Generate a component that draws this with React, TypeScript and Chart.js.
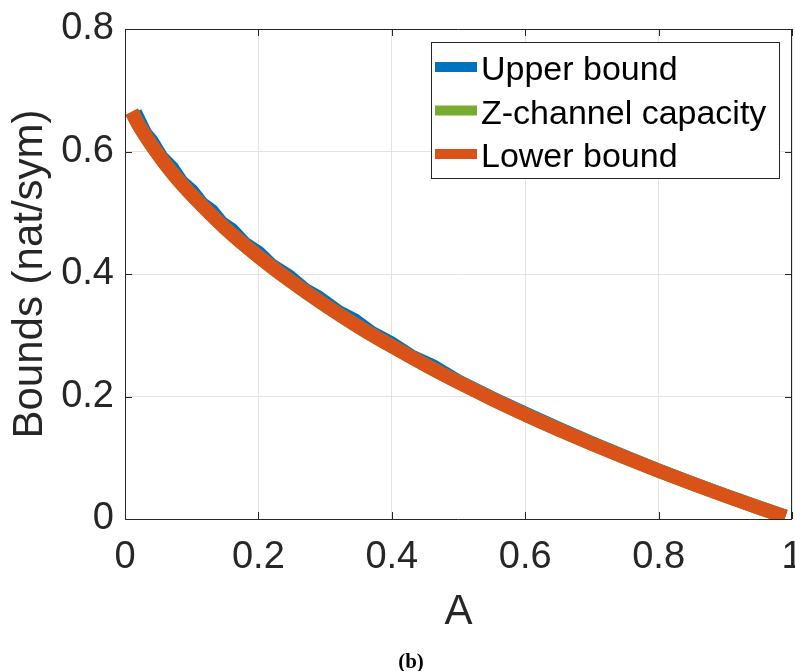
import React, { useEffect, useRef } from "react";
import { Chart, registerables } from "chart.js";

Chart.register(...registerables);

// ---- data ----
const seriesLabels = ["Upper bound", "Z-channel capacity", "Lower bound"];
const seriesColors = ["#0072BD", "#77AC30", "#D95319"];

const lowerA = [0.01, 0.02, 0.04, 0.06, 0.08, 0.1, 0.15, 0.2, 0.25, 0.3, 0.35, 0.4, 0.45, 0.5, 0.55, 0.6, 0.65, 0.7, 0.75, 0.8, 0.85, 0.9, 0.95, 0.99];
const lowerVals = [0.665, 0.644, 0.610, 0.580, 0.553, 0.529, 0.475, 0.4285, 0.387, 0.349, 0.314, 0.282, 0.2517, 0.2231, 0.1962, 0.1705, 0.1461, 0.1227, 0.1003, 0.0787, 0.058, 0.038, 0.0187, 0.0037];
const zVals = [0.665, 0.644, 0.610, 0.580, 0.553, 0.529, 0.475, 0.4285, 0.387, 0.349, 0.314, 0.282, 0.2517, 0.2231, 0.1962, 0.1705, 0.1461, 0.1227, 0.1003, 0.0787, 0.058, 0.038, 0.0187, 0.0037];

const upperA = [0.015, 0.03, 0.04, 0.055, 0.07, 0.085, 0.1, 0.115, 0.13, 0.145, 0.16, 0.18, 0.2, 0.22, 0.245, 0.27, 0.29, 0.32, 0.345, 0.37, 0.4, 0.43, 0.46, 0.5, 0.55, 0.6, 0.65, 0.7, 0.75, 0.8, 0.85, 0.9, 0.95, 0.99];
const upperVals = [0.664, 0.630, 0.617, 0.590, 0.574, 0.550, 0.536, 0.515, 0.503, 0.483, 0.472, 0.449, 0.435, 0.414, 0.397, 0.374, 0.362, 0.338, 0.324, 0.304, 0.2865, 0.265, 0.2505, 0.2245, 0.1975, 0.172, 0.1475, 0.1237, 0.1011, 0.0793, 0.0585, 0.0384, 0.0189, 0.0038];

const xTickValues = [0, 0.2, 0.4, 0.6, 0.8, 1];
const xTickLabels = ["0", "0.2", "0.4", "0.6", "0.8", "1"];
const yTickValues = [0, 0.2, 0.4, 0.6, 0.8];
const yTickLabels = ["0", "0.2", "0.4", "0.6", "0.8"];

const xTitle = "A";
const yTitle = "Bounds (nat/sym)";
const caption = "(b)";

const FONT = "'Liberation Sans', Arial, Helvetica, sans-serif";
const AXIS_COLOR = "#262626";
const AREA = { left: 125, top: 29, right: 792, bottom: 519 };

const decorPlugin = {
  id: "matlabDecor",
  afterLayout(chart: any) {
    const { left, top, right, bottom } = AREA;
    chart.chartArea = { left, top, right, bottom, width: right - left, height: bottom - top };
    const xs = chart.scales.x;
    const ys = chart.scales.y;
    Object.assign(xs, { left, right, top: bottom, bottom: chart.height, width: right - left, height: chart.height - bottom });
    Object.assign(ys, { left: 0, right: left, top, bottom, width: left, height: bottom - top });
    [xs, ys].forEach((s: any) => {
      s.configure();
      s._labelItems = null;
      s._gridLineItems = null;
    });
  },
  afterDatasetsDraw(chart: any) {
    const ctx = chart.ctx;
    const { left, right, top, bottom } = chart.chartArea;
    const xs = chart.scales.x;
    const ys = chart.scales.y;
    ctx.save();
    ctx.strokeStyle = AXIS_COLOR;
    ctx.lineWidth = 1;
    ctx.beginPath();
    ctx.rect(Math.round(left) + 0.5, Math.round(top) + 0.5, Math.round(right - left) - 1, Math.round(bottom - top));
    ctx.stroke();
    const tl = 7;
    ctx.beginPath();
    xTickValues.forEach((v) => {
      const px = Math.round(xs.getPixelForValue(v)) + 0.5;
      ctx.moveTo(px, bottom);
      ctx.lineTo(px, bottom - tl);
      ctx.moveTo(px, top);
      ctx.lineTo(px, top + tl);
    });
    yTickValues.forEach((v) => {
      const py = Math.round(ys.getPixelForValue(v)) + 0.5;
      ctx.moveTo(left, py);
      ctx.lineTo(left + tl, py);
      ctx.moveTo(right, py);
      ctx.lineTo(right - tl, py);
    });
    ctx.stroke();

    // legend
    const boxRight = right - 13;
    const boxLeft = boxRight - 348;
    const boxTop = top + 13;
    const boxH = 136;
    ctx.fillStyle = "#ffffff";
    ctx.fillRect(boxLeft, boxTop, 348, boxH);
    ctx.strokeStyle = AXIS_COLOR;
    ctx.lineWidth = 1;
    ctx.strokeRect(Math.round(boxLeft) + 0.5, Math.round(boxTop) + 0.5, 348, boxH);
    ctx.font = `34px ${FONT}`;
    ctx.textAlign = "left";
    ctx.textBaseline = "alphabetic";
    seriesLabels.forEach((lab, i) => {
      const base = boxTop + 38 + i * 43.5;
      const cy = base - 13;
      ctx.fillStyle = seriesColors[i];
      ctx.fillRect(boxLeft + 4, cy - 5, 42, 10);
      ctx.fillStyle = "#000000";
      ctx.fillText(lab, boxLeft + 50, base);
    });
    ctx.restore();
  },
  afterDraw(chart: any) {
    const ctx = chart.ctx;
    const { left, right, top, bottom } = chart.chartArea;
    ctx.save();
    ctx.fillStyle = AXIS_COLOR;
    ctx.font = `42px ${FONT}`;
    ctx.textAlign = "center";
    ctx.textBaseline = "middle";
    ctx.fillText(xTitle, (left + right) / 2, 612);
    ctx.translate(30, (top + bottom) / 2);
    ctx.rotate(-Math.PI / 2);
    ctx.fillText(yTitle, 0, 0);
    ctx.restore();
  },
};

export default function App() {
  const ref = useRef<HTMLCanvasElement | null>(null);

  useEffect(() => {
    if (!ref.current) return;
    document.body.style.margin = "0";
    const mk = (xa: number[], ya: number[]) => xa.map((x, i) => ({ x, y: ya[i] }));
    const chart = new Chart(ref.current, {
      type: "line",
      data: {
        datasets: [
          {
            label: seriesLabels[0],
            data: mk(upperA, upperVals),
            borderColor: seriesColors[0],
            backgroundColor: seriesColors[0],
            borderWidth: 14,
            pointRadius: 0,
            tension: 0,
            borderCapStyle: "butt",
            borderJoinStyle: "round",
            order: 3,
          },
          {
            label: seriesLabels[1],
            data: mk(lowerA, zVals),
            borderColor: seriesColors[1],
            backgroundColor: seriesColors[1],
            borderWidth: 14,
            pointRadius: 0,
            cubicInterpolationMode: "monotone",
            borderCapStyle: "butt",
            order: 2,
          },
          {
            label: seriesLabels[2],
            data: mk(lowerA, lowerVals),
            borderColor: seriesColors[2],
            backgroundColor: seriesColors[2],
            borderWidth: 14,
            pointRadius: 0,
            cubicInterpolationMode: "monotone",
            borderCapStyle: "butt",
            order: 1,
          },
        ],
      },
      options: {
        animation: false,
        responsive: false,
        layout: { padding: { top: 29, right: 3, left: 0, bottom: 0 } },
        plugins: { legend: { display: false }, tooltip: { enabled: false } },
        scales: {
          x: {
            type: "linear",
            min: 0,
            max: 1,
            afterBuildTicks: (s: any) => {
              s.ticks = xTickValues.map((v) => ({ value: v }));
            },
            afterFit: (s: any) => {
              s.height = 152;
            },
            ticks: {
              autoSkip: false,
              maxRotation: 0,
              padding: 16,
              color: AXIS_COLOR,
              font: { family: FONT, size: 38 },
              callback: (_v: any, i: number) => xTickLabels[i],
            },
            grid: { color: "#e3e3e3", lineWidth: 1, drawTicks: false },
            border: { display: false },
          },
          y: {
            type: "linear",
            min: 0,
            max: 0.8,
            afterBuildTicks: (s: any) => {
              s.ticks = yTickValues.map((v) => ({ value: v }));
            },
            afterFit: (s: any) => {
              s.width = 125;
            },
            ticks: {
              autoSkip: false,
              padding: 11,
              color: AXIS_COLOR,
              font: { family: FONT, size: 38 },
              callback: (_v: any, i: number) => yTickLabels[i],
            },
            grid: { color: "#e3e3e3", lineWidth: 1, drawTicks: false },
            border: { display: false },
          },
        },
      },
      plugins: [decorPlugin],
    });
    return () => chart.destroy();
  }, []);

  return (
    <div style={{ position: "fixed", left: 0, top: 0, width: 795, height: 671, background: "#fff" }}>
      <canvas ref={ref} width={795} height={671} style={{ display: "block" }} />
      <div
        style={{
          position: "absolute",
          left: 361,
          width: 100,
          top: 651,
          textAlign: "center",
          fontFamily: "'Liberation Serif', 'DejaVu Serif', serif",
          fontWeight: "bold",
          fontSize: 21,
          lineHeight: "21px",
          color: "#000",
        }}
      >
        {caption}
      </div>
    </div>
  );
}
